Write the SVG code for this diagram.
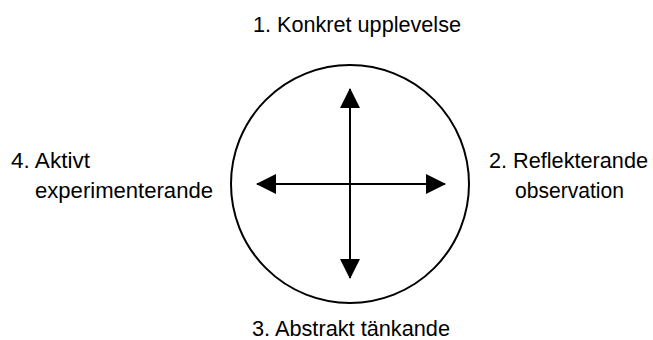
<svg xmlns="http://www.w3.org/2000/svg" width="653" height="340" viewBox="0 0 653 340">
<style>
text{font-family:"Liberation Sans",Arial,sans-serif;font-size:22px;fill:#000}
.c{fill:#fff;stroke:#000;stroke-width:2}
.a{stroke:#000;stroke-width:2;fill:none;marker-start:url(#h);marker-end:url(#h)}
</style>
<defs>
<marker id="h" markerUnits="userSpaceOnUse" viewBox="0 0 20 20" refX="19" refY="10" markerWidth="20" markerHeight="20" orient="auto-start-reverse">
<path d="M0,0 L20,10 L0,20 Z" fill="#000"/>
</marker>
</defs>
<rect width="653" height="340" fill="#fff"/>
<g id="cycle"><circle class="c" cx="350" cy="184" r="119"/></g>
<g id="connectors">
<line class="a" x1="350" y1="89" x2="350" y2="278"/>
<line class="a" x1="257" y1="184" x2="445" y2="184"/>
</g>
<g id="n1"><text x="253" y="32" textLength="208" lengthAdjust="spacingAndGlyphs">1. Konkret upplevelse</text></g>
<g id="n2"><text x="489" y="168" textLength="159" lengthAdjust="spacingAndGlyphs">2. Reflekterande</text><text x="515" y="198" textLength="109" lengthAdjust="spacingAndGlyphs">observation</text></g>
<g id="n3"><text x="252" y="336" textLength="198" lengthAdjust="spacingAndGlyphs">3. Abstrakt tänkande</text></g>
<g id="n4"><text x="11" y="168" textLength="79" lengthAdjust="spacingAndGlyphs">4. Aktivt</text><text x="35" y="198" textLength="178" lengthAdjust="spacingAndGlyphs">experimenterande</text></g>
</svg>
